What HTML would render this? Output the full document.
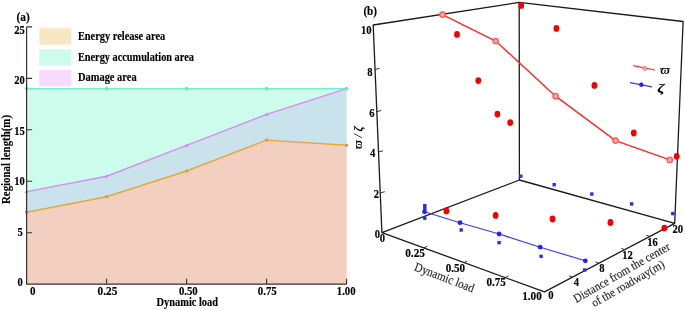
<!DOCTYPE html>
<html><head><meta charset="utf-8"><title>Figure</title>
<style>
html,body{margin:0;padding:0;background:#fff;}
body{width:685px;height:310px;overflow:hidden;}
svg{display:block;}
text{font-family:"Liberation Serif","DejaVu Serif",serif;}
.b{font-weight:bold;fill:#000;}
.t{font-size:11.6px;stroke:#000;stroke-width:0.15px;}
</style></head><body>
<svg width="685" height="310" viewBox="0 0 685 310">
<rect width="685" height="310" fill="#fff"/>

<polygon points="26.6,88.7 106.6,88.7 186.6,88.7 266.6,88.7 346.6,88.7 346.6,88.7 266.6,114.4 186.6,145.3 106.6,176.2 26.6,191.6" fill="#cdfcec"/>
<polygon points="26.6,191.6 106.6,176.2 186.6,145.3 266.6,114.4 346.6,88.7 346.6,145.3 266.6,140.1 186.6,171.0 106.6,196.7 26.6,212.2" fill="#cae2ec"/>
<polygon points="26.6,212.2 106.6,196.7 186.6,171.0 266.6,140.1 346.6,145.3 346.6,284.2 26.6,284.2" fill="#f3cfc2"/>
<polyline points="26.6,191.6 106.6,176.2 186.6,145.3 266.6,114.4 346.6,88.7" fill="none" stroke="#d98cf0" stroke-width="1.4"/>
<polyline points="26.6,212.2 106.6,196.7 186.6,171.0 266.6,140.1 346.6,145.3" fill="none" stroke="#e3a83c" stroke-width="1.4"/>
<polygon points="26.6,189.6 28.4,193.0 24.8,193.0" fill="#d67cf0"/>
<polygon points="106.6,174.2 108.4,177.6 104.8,177.6" fill="#d67cf0"/>
<polygon points="186.6,143.3 188.4,146.7 184.8,146.7" fill="#d67cf0"/>
<polygon points="266.6,112.4 268.4,115.8 264.8,115.8" fill="#d67cf0"/>
<polygon points="346.6,86.7 348.4,90.1 344.8,90.1" fill="#d67cf0"/>
<rect x="25.1" y="210.7" width="3" height="3" fill="#e0a030"/>
<rect x="105.1" y="195.2" width="3" height="3" fill="#e0a030"/>
<rect x="185.1" y="169.5" width="3" height="3" fill="#e0a030"/>
<rect x="265.1" y="138.6" width="3" height="3" fill="#e0a030"/>
<rect x="345.1" y="143.8" width="3" height="3" fill="#e0a030"/>
<polyline points="26.6,88.7 106.6,88.7 186.6,88.7 266.6,88.7 346.6,88.7" fill="none" stroke="#7aeccb" stroke-width="1.4"/>
<circle cx="26.6" cy="88.7" r="1.9" fill="#6ee8c4"/>
<circle cx="106.6" cy="88.7" r="1.9" fill="#6ee8c4"/>
<circle cx="186.6" cy="88.7" r="1.9" fill="#6ee8c4"/>
<circle cx="266.6" cy="88.7" r="1.9" fill="#6ee8c4"/>
<circle cx="346.6" cy="88.7" r="1.9" fill="#6ee8c4"/>
<path d="M26.6 26.9V284.2H346.6" fill="none" stroke="#3a302c" stroke-width="1.2"/>
<path d="M26.6 232.8h5.5M26.6 181.3h5.5M26.6 129.8h5.5M26.6 78.4h5.5M26.6 26.9h5.5M106.6 284.2v-5.5M186.6 284.2v-5.5M266.6 284.2v-5.5M346.6 284.2v-5.5" fill="none" stroke="#3a302c" stroke-width="1.1"/>
<text class="b t" x="22.9" y="285.9" text-anchor="end" textLength="5.3" lengthAdjust="spacingAndGlyphs">0</text>
<text class="b t" x="22.9" y="235.5" text-anchor="end" textLength="5.3" lengthAdjust="spacingAndGlyphs">5</text>
<text class="b t" x="24.9" y="184.9" text-anchor="end" textLength="10.6" lengthAdjust="spacingAndGlyphs">10</text>
<text class="b t" x="24.9" y="134.5" text-anchor="end" textLength="10.6" lengthAdjust="spacingAndGlyphs">15</text>
<text class="b t" x="24.9" y="84.4" text-anchor="end" textLength="10.6" lengthAdjust="spacingAndGlyphs">20</text>
<text class="b t" x="24.9" y="33.9" text-anchor="end" textLength="10.6" lengthAdjust="spacingAndGlyphs">25</text>
<text class="b t" x="32.8" y="295.3" text-anchor="middle" textLength="5.5" lengthAdjust="spacingAndGlyphs">0</text>
<text class="b t" x="107.5" y="295.3" text-anchor="middle" textLength="19.8" lengthAdjust="spacingAndGlyphs">0.25</text>
<text class="b t" x="188.3" y="295.3" text-anchor="middle" textLength="18.8" lengthAdjust="spacingAndGlyphs">0.50</text>
<text class="b t" x="267.3" y="295.3" text-anchor="middle" textLength="19.0" lengthAdjust="spacingAndGlyphs">0.75</text>
<text class="b t" x="346.2" y="295.3" text-anchor="middle" textLength="18.8" lengthAdjust="spacingAndGlyphs">1.00</text>
<text class="b t" x="187.3" y="306.3" text-anchor="middle" textLength="61.5" lengthAdjust="spacingAndGlyphs">Dynamic load</text>
<text class="b t" transform="translate(10.2 159.5) rotate(-90)" text-anchor="middle" textLength="89" lengthAdjust="spacingAndGlyphs">Regional length(m)</text>
<text class="b t" x="16.5" y="20.6" textLength="13.3" lengthAdjust="spacingAndGlyphs">(a)</text>
<rect x="39.3" y="28.2" width="32" height="16.5" fill="#f8e7c5"/>
<rect x="39.3" y="49.2" width="32" height="16.5" fill="#cffbee"/>
<rect x="39.3" y="69.9" width="32" height="16.5" fill="#f6dbfc"/>
<text class="b t" x="77.9" y="40" textLength="87.3" lengthAdjust="spacingAndGlyphs">Energy release area</text>
<text class="b t" x="77.9" y="60.5" textLength="116" lengthAdjust="spacingAndGlyphs">Energy accumulation area</text>
<text class="b t" x="77.9" y="81.4" textLength="58.8" lengthAdjust="spacingAndGlyphs">Damage area</text>
<path d="M373.2 25L519.2 2.4M519.2 2.4L683.1 21.5M373.2 25L381.9 232.6M519.2 2.4L519.4 180M683.1 21.5L674.7 223.3M381.9 232.6L519.4 180M519.4 180L674.7 223.3M381.9 232.6L544.5 291.9M544.5 291.9L674.7 223.3" fill="none" stroke="#1a1a1a" stroke-width="1.3" stroke-linecap="round"/>
<path d="M374.9 69.5l4.6 -1.2M376.6 111.7l4.6 -1.2M378.3 152.0l4.6 -1.2M380.2 192.9l4.6 -1.2M424 247.9l3.2 -1.7M464 262.7l3.2 -1.7M505.3 277.6l3.2 -1.7M572.2 277.0l-3.2 -1.2M598.7 263.2l-3.2 -1.2M624.5 249.6l-3.2 -1.2M649.6 236.4l-3.2 -1.2" fill="none" stroke="#1a1a1a" stroke-width="0.9"/>
<text class="b t" x="366.3" y="33.9" text-anchor="middle" textLength="10.6" lengthAdjust="spacingAndGlyphs">10</text>
<text class="b t" x="369.9" y="76.3" text-anchor="middle" textLength="5.3" lengthAdjust="spacingAndGlyphs">8</text>
<text class="b t" x="371.8" y="116.5" text-anchor="middle" textLength="5.3" lengthAdjust="spacingAndGlyphs">6</text>
<text class="b t" x="372.6" y="157.1" text-anchor="middle" textLength="5.3" lengthAdjust="spacingAndGlyphs">4</text>
<text class="b t" x="376.3" y="198.1" text-anchor="middle" textLength="5.3" lengthAdjust="spacingAndGlyphs">2</text>
<text class="b t" x="377.4" y="237.7" text-anchor="middle" textLength="5.3" lengthAdjust="spacingAndGlyphs">0</text>
<text class="b t" x="382.4" y="242.2" text-anchor="middle" textLength="5.3" lengthAdjust="spacingAndGlyphs">0</text>
<text class="b t" x="415.1" y="257.4" text-anchor="middle" textLength="19.8" lengthAdjust="spacingAndGlyphs">0.25</text>
<text class="b t" x="455.4" y="272.1" text-anchor="middle" textLength="19.4" lengthAdjust="spacingAndGlyphs">0.50</text>
<text class="b t" x="496.2" y="286.3" text-anchor="middle" textLength="19.4" lengthAdjust="spacingAndGlyphs">0.75</text>
<text class="b t" x="532.0" y="300.4" text-anchor="middle" textLength="19.6" lengthAdjust="spacingAndGlyphs">1.00</text>
<text class="b t" x="551.0" y="299.2" text-anchor="middle" textLength="5.3" lengthAdjust="spacingAndGlyphs">0</text>
<text class="b t" x="576.4" y="285.7" text-anchor="middle" textLength="5.3" lengthAdjust="spacingAndGlyphs">4</text>
<text class="b t" x="602.0" y="272.4" text-anchor="middle" textLength="5.3" lengthAdjust="spacingAndGlyphs">8</text>
<text class="b t" x="627.6" y="259.0" text-anchor="middle" textLength="10.6" lengthAdjust="spacingAndGlyphs">12</text>
<text class="b t" x="652.6" y="246.1" text-anchor="middle" textLength="10.6" lengthAdjust="spacingAndGlyphs">16</text>
<text class="b t" x="677.8" y="233.3" text-anchor="middle" textLength="10.6" lengthAdjust="spacingAndGlyphs">20</text>
<text class="b t" x="363.4" y="15.1" textLength="13.7" lengthAdjust="spacingAndGlyphs">(b)</text>
<text transform="translate(443 281.2) rotate(21)" text-anchor="middle" font-size="12.3" fill="#222" stroke="#222" stroke-width="0.12" textLength="63" lengthAdjust="spacingAndGlyphs">Dynamic load</text>
<text transform="translate(623.7 275.9) rotate(-29.7)" text-anchor="middle" font-size="12.2" fill="#222" stroke="#222" stroke-width="0.12" textLength="109" lengthAdjust="spacingAndGlyphs">Distance from the center</text>
<text transform="translate(629.8 287.0) rotate(-29.7)" text-anchor="middle" font-size="12.2" fill="#222" stroke="#222" stroke-width="0.12" textLength="82" lengthAdjust="spacingAndGlyphs">of the roadway(m)</text>
<text transform="translate(362.3 137.7) rotate(-90)" text-anchor="middle" font-size="12" font-style="italic" font-weight="bold" fill="#000" textLength="23" lengthAdjust="spacing">ϖ / ζ</text>
<ellipse cx="457" cy="34.4" rx="2.9" ry="3.4" fill="#f40000"/>
<ellipse cx="478.3" cy="80.6" rx="2.9" ry="3.4" fill="#f40000"/>
<ellipse cx="521.2" cy="5.4" rx="2.9" ry="3.4" fill="#f40000"/>
<ellipse cx="556.4" cy="28.4" rx="2.9" ry="3.4" fill="#f40000"/>
<ellipse cx="594.4" cy="85.4" rx="2.9" ry="3.4" fill="#f40000"/>
<ellipse cx="497.4" cy="114.1" rx="2.9" ry="3.4" fill="#f40000"/>
<ellipse cx="510.2" cy="122.6" rx="2.9" ry="3.4" fill="#f40000"/>
<ellipse cx="633.8" cy="133" rx="2.9" ry="3.4" fill="#f40000"/>
<ellipse cx="676.7" cy="156.3" rx="2.9" ry="3.4" fill="#f40000"/>
<ellipse cx="446.4" cy="210.9" rx="2.9" ry="3.4" fill="#f40000"/>
<ellipse cx="495.6" cy="215.4" rx="2.9" ry="3.4" fill="#f40000"/>
<ellipse cx="552.5" cy="219" rx="2.9" ry="3.4" fill="#f40000"/>
<ellipse cx="610.4" cy="222.5" rx="2.9" ry="3.4" fill="#f40000"/>
<ellipse cx="664.3" cy="228.1" rx="2.9" ry="3.4" fill="#f40000"/>
<polyline points="442.4,14.6 495.7,41 555.6,96.2 615.5,140.6 669.8,159.9" fill="none" stroke="#ff2a2a" stroke-width="1.5"/>
<circle cx="442.4" cy="14.6" r="2.6" fill="#ffb0b0" stroke="#ff5c5c" stroke-width="1.5"/>
<circle cx="495.7" cy="41" r="2.6" fill="#ffb0b0" stroke="#ff5c5c" stroke-width="1.5"/>
<circle cx="555.6" cy="96.2" r="2.6" fill="#ffb0b0" stroke="#ff5c5c" stroke-width="1.5"/>
<circle cx="615.5" cy="140.6" r="2.6" fill="#ffb0b0" stroke="#ff5c5c" stroke-width="1.5"/>
<circle cx="669.8" cy="159.9" r="2.6" fill="#ffb0b0" stroke="#ff5c5c" stroke-width="1.5"/>
<polyline points="424.5,211.8 460,222.7 499.1,234 540.2,247.2 585.3,260.8" fill="none" stroke="#3a3aff" stroke-width="1.2"/>
<circle cx="424.5" cy="211.8" r="2.4" fill="#2222ff"/>
<circle cx="460" cy="222.7" r="2.4" fill="#2222ff"/>
<circle cx="499.1" cy="234" r="2.4" fill="#2222ff"/>
<circle cx="540.2" cy="247.2" r="2.4" fill="#2222ff"/>
<circle cx="585.3" cy="260.8" r="2.4" fill="#2222ff"/>
<rect x="423.1" y="203.9" width="3.4" height="3.4" fill="#2a2aff"/>
<rect x="423.1" y="206.8" width="3.4" height="3.4" fill="#2a2aff"/>
<rect x="423.1" y="216.5" width="3.4" height="3.4" fill="#2a2aff"/>
<rect x="459.5" y="228.3" width="3.4" height="3.4" fill="#2a2aff"/>
<rect x="497.4" y="240.9" width="3.4" height="3.4" fill="#2a2aff"/>
<rect x="539.4" y="254.6" width="3.4" height="3.4" fill="#2a2aff"/>
<rect x="583.0" y="268.3" width="3.4" height="3.4" fill="#2a2aff"/>
<rect x="519.1" y="174.5" width="3.4" height="3.4" fill="#2a2aff"/>
<rect x="552.5" y="183.0" width="3.4" height="3.4" fill="#2a2aff"/>
<rect x="590.1" y="192.3" width="3.4" height="3.4" fill="#2a2aff"/>
<rect x="629.9" y="202.2" width="3.4" height="3.4" fill="#2a2aff"/>
<rect x="671.1" y="211.9" width="3.4" height="3.4" fill="#2a2aff"/>
<path d="M633.2 65.6L655 70" stroke="#ff2a2a" stroke-width="1.2"/>
<circle cx="644.7" cy="68.4" r="1.9" fill="#ffb0b0" stroke="#f66" stroke-width="1"/>
<path d="M630 82.7L652 86.8" stroke="#3a3aff" stroke-width="1.2"/>
<circle cx="641.3" cy="84.7" r="2.2" fill="#2222ff"/>
<text x="660" y="74.3" font-size="13" font-style="italic" font-weight="bold" fill="#000">ϖ</text>
<text transform="translate(657.2 91.8) scale(1.45 1)" font-size="11.8" font-style="italic" font-weight="bold" fill="#000">ζ</text>
</svg></body></html>
